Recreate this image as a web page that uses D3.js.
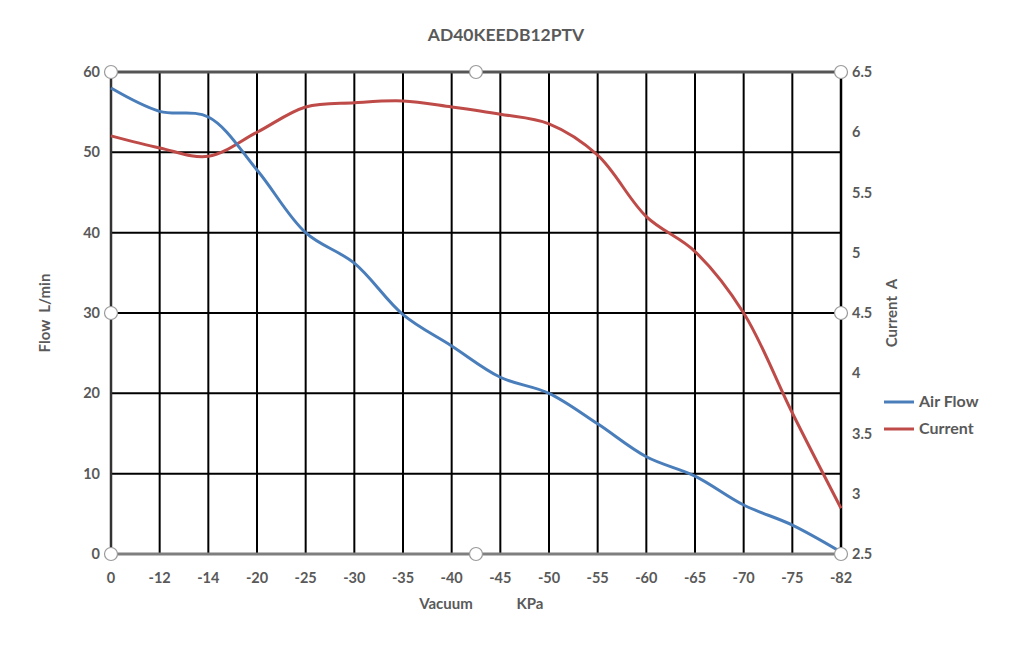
<!DOCTYPE html>
<html>
<head>
<meta charset="utf-8">
<script src="https://cdn.jsdelivr.net/npm/d3@7"></script>
<style>
  body { margin: 0; background: #fff; }
  text { font-family: Lato, "Open Sans", sans-serif; font-weight: bold; fill: #595959; }
</style>
</head>
<body>
<div id="chart"></div>
<script>
var vacuum = ["0", "-12", "-14", "-20", "-25", "-30", "-35", "-40", "-45", "-50", "-55", "-60", "-65", "-70", "-75", "-82"];
var airFlow = [58.0, 55.1, 54.4, 47.8, 40.0, 36.2, 29.8, 25.9, 22.0, 20.0, 16.2, 12.1, 9.7, 6.1, 3.6, 0.25];
var current = [5.97, 5.87, 5.80, 6.00, 6.21, 6.245, 6.26, 6.21, 6.15, 6.07, 5.81, 5.30, 5.01, 4.50, 3.67, 2.88];
var flowTicks = [0, 10, 20, 30, 40, 50, 60];
var currentTicks = [2.5, 3, 3.5, 4, 4.5, 5, 5.5, 6, 6.5];

function init() {
    var w = 1023, h = 653;
    var left = 111, right = 841, top = 72, bottom = 554;

    var svg = d3.select("#chart").append("svg")
        .attr("width", w)
        .attr("height", h);

    var x = d3.scalePoint().domain(vacuum).range([left, right]);
    var yL = d3.scaleLinear().domain([0, 60]).range([bottom, top]);
    var yR = d3.scaleLinear().domain([2.5, 6.5]).range([bottom, top]);

    // grid
    svg.append("g").selectAll("line")
        .data(flowTicks.slice(1, -1))
        .enter().append("line")
        .attr("x1", left).attr("x2", right)
        .attr("y1", d => yL(d)).attr("y2", d => yL(d))
        .attr("stroke", "#000").attr("stroke-width", 2);

    svg.append("g").selectAll("line")
        .data(vacuum.slice(1, -1))
        .enter().append("line")
        .attr("x1", d => x(d)).attr("x2", d => x(d))
        .attr("y1", top).attr("y2", bottom)
        .attr("stroke", "#000").attr("stroke-width", 2);

    // frame
    svg.append("line").attr("x1", left).attr("x2", left).attr("y1", top).attr("y2", bottom)
        .attr("stroke", "#333").attr("stroke-width", 2.5);
    svg.append("line").attr("x1", right).attr("x2", right).attr("y1", top).attr("y2", bottom)
        .attr("stroke", "#000").attr("stroke-width", 2.5);
    svg.append("line").attr("x1", left).attr("x2", right).attr("y1", top).attr("y2", top)
        .attr("stroke", "#555").attr("stroke-width", 3);
    svg.append("line").attr("x1", left).attr("x2", right).attr("y1", bottom).attr("y2", bottom)
        .attr("stroke", "#7f7f7f").attr("stroke-width", 3);

    // lines
    var flowLine = d3.line()
        .x((d, i) => x(vacuum[i]))
        .y(d => yL(d))
        .curve(d3.curveCatmullRom.alpha(0.5));
    var curLine = d3.line()
        .x((d, i) => x(vacuum[i]))
        .y(d => yR(d))
        .curve(d3.curveCatmullRom.alpha(0.5));

    svg.append("path").datum(current)
        .attr("d", curLine)
        .attr("fill", "none")
        .attr("stroke", "#be4b48")
        .attr("stroke-width", 3);
    svg.append("path").datum(airFlow)
        .attr("d", flowLine)
        .attr("fill", "none")
        .attr("stroke", "#4a7ebb")
        .attr("stroke-width", 3);

    // axes labels
    svg.append("g").selectAll("text")
        .data(flowTicks)
        .enter().append("text")
        .attr("x", 100)
        .attr("y", d => yL(d) + 5)
        .attr("text-anchor", "end")
        .style("font-size", "14.5px")
        .text(d => d);

    svg.append("g").selectAll("text")
        .data(currentTicks)
        .enter().append("text")
        .attr("x", 852)
        .attr("y", d => yR(d) + 5)
        .style("font-size", "14.5px")
        .text(d => d);

    svg.append("g").selectAll("text")
        .data(vacuum)
        .enter().append("text")
        .attr("x", d => x(d))
        .attr("y", 583)
        .attr("text-anchor", "middle")
        .style("font-size", "14.5px")
        .text(d => d);

    // handles
    var midX = (left + right) / 2, midY = (top + bottom) / 2;
    var handles = [[left, top], [midX, top], [right, top], [left, midY], [right, midY],
        [left, bottom], [midX, bottom], [right, bottom]];
    svg.selectAll("circle.handle")
        .data(handles)
        .enter().append("circle")
        .attr("class", "handle")
        .attr("cx", d => d[0]).attr("cy", d => d[1])
        .attr("r", 6.5)
        .attr("fill", "#fff")
        .attr("stroke", "#9a9a9a")
        .attr("stroke-width", 1.2);

    // titles
    svg.append("text")
        .attr("x", 506).attr("y", 41)
        .attr("text-anchor", "middle")
        .style("font-size", "17.5px")
        .text("AD40KEEDB12PTV");

    svg.append("text")
        .attr("transform", "translate(50," + midY + ") rotate(-90)")
        .attr("text-anchor", "middle")
        .style("font-size", "15px")
        .style("white-space", "pre")
        .text("Flow  L/min");

    svg.append("text")
        .attr("transform", "translate(897," + midY + ") rotate(-90)")
        .attr("text-anchor", "middle")
        .style("font-size", "15px")
        .style("white-space", "pre")
        .text("Current  A");

    svg.append("text")
        .attr("x", 446).attr("y", 609)
        .attr("text-anchor", "middle")
        .style("font-size", "15px")
        .text("Vacuum");
    svg.append("text")
        .attr("x", 530).attr("y", 609)
        .attr("text-anchor", "middle")
        .style("font-size", "15px")
        .text("KPa");

    // legend
    var keys = [["Air Flow", "#4a7ebb"], ["Current", "#be4b48"]];
    var lg = svg.selectAll("g.legend")
        .data(keys)
        .enter().append("g")
        .attr("class", "legend")
        .attr("transform", (d, i) => "translate(884," + (402 + i * 27) + ")");
    lg.append("line")
        .attr("x1", 0).attr("x2", 30)
        .attr("stroke", d => d[1])
        .attr("stroke-width", 3);
    lg.append("text")
        .attr("x", 35).attr("y", 5)
        .style("font-size", "16px")
        .text(d => d[0]);
}

window.onload = init;
</script>
</body>
</html>
